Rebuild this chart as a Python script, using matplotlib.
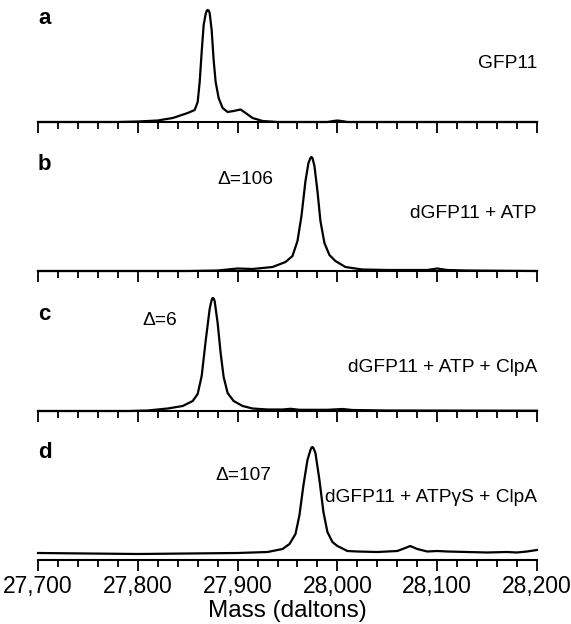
import matplotlib.pyplot as plt
from matplotlib.ticker import MultipleLocator, FuncFormatter

plt.rcParams['font.family'] = ['Liberation Sans', 'DejaVu Sans']

# traces (intensity in arbitrary units, baseline = 0)
a_mass = [27700, 27780, 27800, 27820, 27835, 27850, 27857, 27860, 27862, 27864, 27866, 27868,
          27869, 27870, 27871, 27872, 27874, 27876, 27878, 27881, 27885, 27890, 27896, 27903,
          27908, 27915, 27925, 27940, 27990, 27996, 28000, 28004, 28010, 28200]
a_int = [0, 0, 0.5, 1.5, 4, 9, 12, 20, 40, 70, 97, 108,
         111, 112, 111.5, 109, 92, 62, 40, 24, 14, 10, 11, 12.5,
         9, 4, 1, 0, 0, 1, 1.5, 1, 0, 0]

b_mass = [27700, 27850, 27880, 27900, 27915, 27935, 27948, 27955, 27960, 27964, 27968, 27971,
          27973, 27974, 27975, 27977, 27980, 27983, 27987, 27992, 27998, 28008, 28025, 28050,
          28090, 28100, 28110, 28130, 28200]
b_int = [0, 0, 0.5, 2.5, 2, 4, 9, 15, 30, 55, 90, 108,
         113, 114, 113, 105, 80, 50, 28, 16, 10, 4, 1.5, 1,
         1, 2.5, 1, 0.5, 0]

c_mass = [27700, 27790, 27810, 27830, 27845, 27855, 27860, 27864, 27868, 27872, 27874, 27875,
          27876, 27877, 27880, 27883, 27886, 27890, 27896, 27905, 27915, 27930, 27945, 27953,
          27962, 27990, 28005, 28015, 28050, 28200]
c_int = [0, 0, 0.5, 2.5, 5, 10, 17, 35, 70, 102, 111, 113,
         112.5, 110, 88, 58, 34, 18, 10, 5, 2.5, 1.5, 1.5, 2.2,
         1.2, 1.2, 2, 1, 0.5, 0.3]

d_mass = [27700, 27750, 27800, 27850, 27900, 27930, 27945, 27952, 27958, 27962, 27966, 27970,
          27973, 27974, 27975, 27976, 27978, 27982, 27986, 27990, 27995, 28000, 28010, 28020,
          28040, 28060, 28068, 28073, 28080, 28090, 28100, 28110, 28130, 28150, 28170, 28180,
          28190, 28200]
d_int = [7, 6.5, 6, 6.5, 7, 8, 11, 16, 26, 45, 75, 100,
         110, 112.5, 113, 112, 107, 80, 48, 28, 18, 14, 9, 8.5,
         8, 9, 12, 14, 11, 8.5, 9, 8.5, 8, 7.5, 8, 7.5,
         8.5, 10]

panels = [
    ("a", a_mass, a_int, 122, "GFP11"),
    ("b", b_mass, b_int, 271, "dGFP11 + ATP"),
    ("c", c_mass, c_int, 411, "dGFP11 + ATP + ClpA"),
    ("d", d_mass, d_int, 560, "dGFP11 + ATP\u03b3S + ClpA"),
]

W, H = 571, 624
fig = plt.figure(figsize=(W / 100, H / 100), dpi=100)


def fx(px):
    return px / W


def fy(py):
    return 1 - py / H


axes = []
for letter, mass, inten, axis_y, label in panels:
    ax = fig.add_axes([fx(38), fy(axis_y), fx(499), 120 / H])
    ax.plot(mass, inten, color='black', lw=1.6, clip_on=False, solid_joinstyle='round')
    ax.set_xlim(27700, 28200)
    ax.set_ylim(0, 120)
    for s in ['top', 'left', 'right']:
        ax.spines[s].set_visible(False)
    ax.spines['bottom'].set_linewidth(1.5)
    ax.patch.set_alpha(0)
    ax.set_yticks([])
    ax.xaxis.set_major_locator(MultipleLocator(100))
    ax.xaxis.set_minor_locator(MultipleLocator(20))
    ax.tick_params(axis='x', which='major', length=8, width=1.3, direction='out', pad=3,
                   labelsize=16.5)
    ax.tick_params(axis='x', which='minor', length=5, width=1.3, direction='out')
    ax.tick_params(axis='x', labelbottom=False)
    axes.append(ax)

axes[-1].tick_params(axis='x', labelbottom=True)
axes[-1].xaxis.set_major_formatter(FuncFormatter(lambda v, p: f"{int(v):,}"))
axes[-1].set_xlabel("Mass (daltons)", fontsize=17.5, labelpad=1)

# panel letters
for letter, y in zip("abcd", [19, 164, 315, 452]):
    fig.text(fx(38), fy(y), letter, fontsize=16, fontweight='bold', va='center', ha='left')

# condition labels
for txt, y in zip([p[4] for p in panels], [63, 213, 368, 497]):
    fig.text(fx(537), fy(y), txt, fontsize=13.8, va='center', ha='right')

# mass shift labels
for txt, x, y in [("\u0394=106", 245, 180), ("\u0394=6", 160, 321), ("\u0394=107", 243, 476)]:
    fig.text(fx(x), fy(y), txt, fontsize=13.8, va='center', ha='center')

fig.savefig("out.png", dpi=100)
